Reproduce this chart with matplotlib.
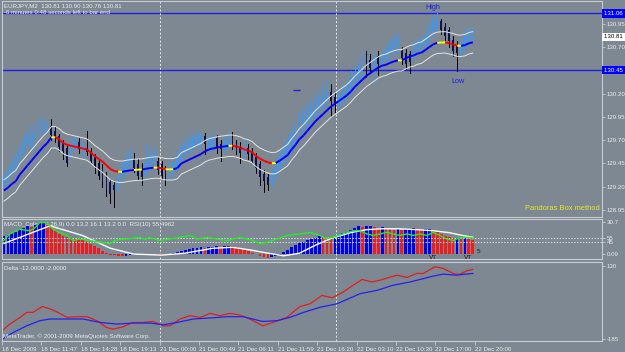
import matplotlib
matplotlib.use('Agg')
import matplotlib.pyplot as plt
import numpy as np
from matplotlib.collections import LineCollection
from matplotlib.transforms import blended_transform_factory as btf

plt.rcParams['font.family'] = ['Liberation Sans', 'DejaVu Sans']

# ---------------- data ----------------
opens = [
    129.22, 129.27, 129.35, 129.40, 129.50, 129.58, 129.66, 129.62, 129.72, 129.76,
    129.80, 129.82, 129.85, 129.80, 129.74, 129.68, 129.62, 129.55, 129.60, 129.68,
    129.58, 129.62, 129.57, 129.52, 129.46, 129.40, 129.32, 129.25, 129.22, 129.18,
    129.30, 129.36, 129.42, 129.50, 129.44, 129.38, 129.32, 129.42, 129.46, 129.48,
    129.44, 129.38, 129.30, 129.36, 129.40, 129.48, 129.55, 129.58, 129.62, 129.65,
    129.66, 129.74, 129.62, 129.64, 129.72, 129.66, 129.60, 129.64, 129.72, 129.66,
    129.62, 129.56, 129.62, 129.58, 129.52, 129.44, 129.34, 129.30, 129.24, 129.30,
    129.40, 129.48, 129.55, 129.62, 129.70, 129.76, 129.82, 129.86, 129.92, 129.96,
    130.02, 130.06, 130.12, 130.22, 130.16, 130.08, 130.12, 130.18, 130.24, 130.30,
    130.36, 130.40, 130.60, 130.56, 130.48, 130.60, 130.52, 130.56, 130.62, 130.66,
    130.70, 130.66, 130.64, 130.62, 130.60, 130.66, 130.70, 130.72, 130.78, 130.86,
    130.90, 130.98, 130.92, 130.88, 130.78, 130.72, 130.64, 130.70, 130.76, 130.81]
closes = [
    129.32, 129.38, 129.46, 129.52, 129.62, 129.70, 129.78, 129.74, 129.84, 129.88,
    129.90, 129.86, 129.76, 129.72, 129.63, 129.58, 129.45, 129.66, 129.70, 129.60,
    129.66, 129.57, 129.48, 129.42, 129.32, 129.25, 129.17, 129.12, 129.16, 129.30,
    129.42, 129.50, 129.55, 129.40, 129.32, 129.30, 129.48, 129.52, 129.56, 129.38,
    129.32, 129.28, 129.40, 129.46, 129.52, 129.60, 129.66, 129.70, 129.72, 129.74,
    129.75, 129.66, 129.70, 129.72, 129.62, 129.60, 129.68, 129.72, 129.64, 129.58,
    129.56, 129.62, 129.55, 129.48, 129.40, 129.30, 129.26, 129.22, 129.34, 129.44,
    129.55, 129.62, 129.70, 129.78, 129.86, 129.92, 129.98, 130.02, 130.08, 130.12,
    130.16, 130.20, 130.24, 130.12, 130.08, 130.18, 130.24, 130.30, 130.38, 130.44,
    130.50, 130.58, 130.50, 130.48, 130.58, 130.52, 130.60, 130.68, 130.74, 130.78,
    130.80, 130.58, 130.52, 130.54, 130.70, 130.76, 130.78, 130.84, 130.92, 130.98,
    131.00, 130.88, 130.82, 130.76, 130.66, 130.64, 130.74, 130.82, 130.86, 130.81]
highs = [
    129.35, 129.42, 129.50, 129.56, 129.66, 129.75, 129.86, 129.80, 129.90, 129.93,
    129.95, 129.92, 129.93, 129.84, 129.77, 129.70, 129.66, 129.72, 129.74, 129.72,
    129.70, 129.80, 129.62, 129.55, 129.50, 129.44, 129.36, 129.28, 129.26, 129.34,
    129.48, 129.56, 129.62, 129.56, 129.50, 129.46, 129.66, 129.60, 129.63, 129.52,
    129.48, 129.42, 129.46, 129.50, 129.58, 129.66, 129.72, 129.76, 129.78, 129.80,
    129.78, 129.78, 129.74, 129.78, 129.76, 129.70, 129.74, 129.78, 129.79, 129.70,
    129.68, 129.72, 129.66, 129.62, 129.56, 129.48, 129.38, 129.34, 129.40, 129.50,
    129.60, 129.68, 129.78, 129.84, 129.92, 130.00, 130.04, 130.10, 130.14, 130.18,
    130.22, 130.30, 130.35, 130.30, 130.22, 130.24, 130.30, 130.36, 130.44, 130.50,
    130.58, 130.66, 130.66, 130.62, 130.64, 130.66, 130.66, 130.72, 130.80, 130.86,
    130.84, 130.70, 130.68, 130.66, 130.78, 130.80, 130.82, 130.92, 130.98, 131.04,
    131.06, 131.00, 130.96, 130.92, 130.82, 130.76, 130.80, 130.88, 130.92, 130.90]
lows = [
    129.20, 129.25, 129.33, 129.38, 129.48, 129.55, 129.64, 129.58, 129.70, 129.72,
    129.77, 129.80, 129.70, 129.68, 129.58, 129.50, 129.42, 129.52, 129.58, 129.56,
    129.52, 129.54, 129.45, 129.35, 129.28, 129.20, 129.10, 129.03, 128.98, 129.15,
    129.26, 129.33, 129.40, 129.36, 129.28, 129.22, 129.30, 129.38, 129.42, 129.34,
    129.28, 129.22, 129.27, 129.33, 129.38, 129.45, 129.52, 129.55, 129.58, 129.62,
    129.62, 129.55, 129.58, 129.60, 129.56, 129.48, 129.57, 129.60, 129.60, 129.55,
    129.46, 129.53, 129.50, 129.45, 129.35, 129.22, 129.14, 129.16, 129.20, 129.27,
    129.37, 129.45, 129.52, 129.58, 129.66, 129.72, 129.78, 129.82, 129.88, 129.92,
    129.98, 130.02, 130.08, 129.96, 130.00, 130.04, 130.08, 130.14, 130.20, 130.26,
    130.32, 130.36, 130.38, 130.42, 130.30, 130.40, 130.48, 130.52, 130.58, 130.62,
    130.64, 130.52, 130.46, 130.42, 130.56, 130.62, 130.66, 130.68, 130.74, 130.82,
    130.86, 130.84, 130.78, 130.70, 130.60, 130.44, 130.60, 130.66, 130.72, 130.76]
ma = [
    129.16, 129.19, 129.23, 129.26, 129.33, 129.38, 129.43, 129.48, 129.53, 129.58,
    129.63, 129.67, 129.73, 129.732, 129.71, 129.67, 129.65, 129.64, 129.63, 129.62,
    129.61, 129.60, 129.57, 129.53, 129.50, 129.47, 129.43, 129.39, 129.37, 129.362,
    129.360, 129.368, 129.375, 129.380, 129.383, 129.384, 129.392, 129.400, 129.405, 129.406,
    129.398, 129.388, 129.386, 129.388, 129.40, 129.45, 129.47, 129.49, 129.51, 129.53,
    129.55, 129.58, 129.60, 129.61, 129.62, 129.627, 129.633, 129.639, 129.640, 129.632,
    129.62, 129.60, 129.59, 129.57, 129.53, 129.50, 129.48, 129.462, 129.452, 129.455,
    129.48, 129.51, 129.54, 129.60, 129.65, 129.71, 129.75, 129.80, 129.85, 129.90,
    129.94, 129.98, 130.02, 130.06, 130.09, 130.12, 130.15, 130.18, 130.22, 130.27,
    130.31, 130.35, 130.39, 130.42, 130.45, 130.48, 130.50, 130.51, 130.53, 130.545,
    130.556, 130.558, 130.58, 130.60, 130.61, 130.63, 130.64, 130.67, 130.70, 130.73,
    130.745, 130.748, 130.750, 130.74, 130.73, 130.715, 130.713, 130.72, 130.74, 130.75]
envelope_width = 0.115

hist = [
    17, 18, 20, 21, 23, 25, 27, 26, 28, 29.8,
    30.7, 28, 25, 22, 19, 17, 16, 15, 14.5, 14,
    13, 12, 10, 8, 6, 3, 1, -0.5, -1.2, -1.5,
    -1.8, -1.5, -1.0, -0.8, -1.0, -1.2, -0.8, -0.5, -0.3, -0.5,
    -0.8, -0.6, 0.2, 1.0, 2.0, 3.0, 4.0, 4.8, 5.5, 6.0,
    6.5, 6.0, 6.8, 7.2, 7.5, 7.0, 7.4, 7.8, 7.5, 6.5,
    5.5, 4.2, 3.0, 1.5, 0.0, -1.5, -2.8, -3.5, -3.0, -2.0,
    -0.5, 1.9, 3.7, 6.5, 8.4, 10.2, 11.2, 13.0, 14.9, 15.8,
    17.7, 16.7, 15.8, 14.9, 16.7, 18.6, 20.5, 21.4, 23.3, 25.1,
    27, 26, 26.5, 27, 26, 25, 25.5, 25, 24, 23.3,
    23.8, 23.3, 23.8, 24.2, 24.6, 24.2, 23.3, 23.8, 24.2, 23.3,
    21.4, 19.5, 17.7, 16.3, 15.3, 15.8, 14.9, 15.3, 14.4, 13.2]

sig_x = [0, 11.7, 20, 27, 33, 40, 46, 53, 58, 63, 67, 71, 75, 79, 83, 88, 92, 96, 100, 105, 109, 113, 116.5, 119]
sig_y = [10.2, 27, 17.7, 5.6, 0, -0.9, 0.9, 5.6, 6.5, 3.7, 0.9, -1.6, 0.9, 8.4, 14.9, 20.5, 23.3, 24.2, 24.2, 23.3, 22.3, 20.5, 17.7, 16.1]

rsi_x = [-0.5, 1.5, 4, 6.6, 7.9, 9.1, 10.9, 12.4, 14.2, 16, 17.5, 19.3, 21.8, 24.4, 26.9,
         28.2, 29.4, 32, 34.5, 35.8, 37, 39.6, 42.1, 44.7, 47.2, 49, 51.5, 54, 56.6, 59.9,
         63.2, 65, 66.8, 69.3, 71.8, 75.1, 77.7, 80.2, 81.5, 83.5, 86, 88.6, 90.4, 92.1, 93.7,
         95.4, 97.2, 98.7, 100.5, 102.3, 103.8, 105.6, 107.4, 108.9, 110.7, 112.4, 114, 115.7, 117.5, 119]
rsi_y = [45, 66, 78, 74, 82, 95, 95, 78, 70, 62, 49, 53, 49, 45, 41,
         49, 52, 54, 57, 52, 57, 49, 53, 57, 62, 53, 57, 53, 49, 57,
         49, 41, 45, 53, 62, 66, 70, 62, 55, 57, 66, 74, 74, 66, 62,
         66, 70, 66, 62, 66, 62, 66, 62, 70, 62, 53, 49, 56, 57.5, 55.5]
rsi_levels = [55, 45]

delta_red_x = [-0.5, 1.5, 4.1, 5.8, 7.4, 9.7, 11.7, 13.7, 16, 18.5, 21.1, 23.6, 26.1, 27.7, 30.2,
               32.7, 35.3, 37.8, 40.4, 42.1, 44.7, 47.2, 49.8, 52.3, 54.8, 57.4, 59.9, 62.4, 65.7, 68.3,
               71.8, 75.1, 77.7, 80.7, 83.3, 86.1, 88.6, 90.9, 93.4, 95.4, 99.8, 102.3, 104.8, 106.4, 109.4,
               111.4, 114.5, 115.7, 117.5, 119]
delta_red_y = [-150, -120.7, -91.8, -70, -70, -45, -55, -70, -91.8, -88.8, -88.8, -106, -135.6, -142.6, -132.5,
               -113.7, -113.7, -109.3, -128, -128, -98.8, -84.4, -91.8, -74.3, -84.4, -74.3, -81.3, -98.8, -128, -113.7,
               -91.8, -45, -33.2, 3.1, -7, 17.6, 46.9, 71.8, 61.3, 68.8, 90.6, 80.6, 98.1, 98.1, 127,
               120, 95, 95, 109.4, 115.6]
delta_blue_x = [-0.5, 2.3, 5.8, 9.1, 11.7, 16, 20.1, 24.4, 28.7, 32.7, 37.1, 40.4, 43.9, 48, 52.3,
                56.6, 60.7, 65.7, 69.3, 72.6, 75.9, 80.2, 84.5, 90.4, 94.7, 98.7, 103.1, 108.9, 111.4, 115,
                117, 119]
delta_blue_y = [-186.3, -157.4, -128, -106, -98.8, -98.8, -98.8, -113.7, -120.7, -116.3, -116.3, -123.8, -113.7, -98.8, -94.4,
                -88.8, -88.8, -109.3, -106, -91.8, -71, -48, -33.2, 10.6, 25, 46.9, 61.3, 86.3, 95, 90.6,
                95, 98.1]

time_labels = ["18 Dec 2009", "18 Dec 11:47", "18 Dec 14:28", "18 Dec 19:13", "21 Dec 00:00",
               "21 Dec 00:49", "21 Dec 06:11", "21 Dec 11:59", "21 Dec 16:20", "22 Dec 03:10",
               "22 Dec 10:30", "22 Dec 17:00", "22 Dec 20:00"]
time_tick_pos = [-0.5, 9.5, 19.5, 29.5, 39.5, 49.5, 59.5, 69.5, 79.5, 89.5, 99.5, 109.5, 119.5]
separators = [39.6, 84.3]
price_ticks = [130.95, 130.70, 130.20, 129.95, 129.70, 129.45, 129.20, 128.95]
high_level = 131.06
low_level = 130.45
last_price = 130.81

# ---------------- style ----------------
BG = '#7d8893'
TXT = '#ececec'
SPINE = '#c8ccd2'
BULL = '#3399ff'
BEAR = '#12124a'
LBLUE = '#1e1ee6'
FS = 4.4

W, H = 625, 352
fig = plt.figure(figsize=(W / 100, H / 100), dpi=100, facecolor=BG)


def px_axes(l, t, r, b):
    ax = fig.add_axes([l / W, 1 - b / H, (r - l) / W, (b - t) / H])
    ax.set_facecolor(BG)
    for s in ax.spines.values():
        s.set_color(SPINE)
        s.set_linewidth(0.8)
    ax.set_xlim(-0.5, 151.8)
    return ax


ax1 = px_axes(2, 1, 602, 217)
ax2 = px_axes(2, 219, 602, 259)
ax3 = px_axes(2, 262, 602, 341)

x = np.arange(len(closes))
o = np.array(opens); c = np.array(closes); h = np.array(highs); l = np.array(lows)
bull = c >= o

# ---- main panel ----
ax1.set_ylim(128.875, 131.194)
ax1.axhline(high_level, color=LBLUE, lw=1.0, zorder=1)
ax1.axhline(low_level, color=LBLUE, lw=1.0, zorder=1)
ax1.vlines(x, l, h, colors=np.where(bull, BULL, '#000000'), lw=0.6, zorder=2, antialiased=False)
body_h = np.maximum(np.abs(c - o), 0.004)
ax1.bar(x, body_h, bottom=np.minimum(o, c), width=0.45,
        color=np.where(bull, BULL, BEAR), edgecolor='none', zorder=3, antialiased=False)
mav = np.array(ma)
ax1.plot(x, mav + envelope_width, color='#e4e4e4', lw=0.7, zorder=4)
ax1.plot(x, mav - envelope_width, color='#e4e4e4', lw=0.7, zorder=4)
d = np.diff(mav)
seg_colors = np.where(np.abs(d) < 0.0035, '#ffff00', np.where(d > 0, '#0000ff', '#ff0000'))
segs = [[(x[i], mav[i]), (x[i + 1], mav[i + 1])] for i in range(len(mav) - 1)]
ax1.add_collection(LineCollection(segs, colors=seg_colors, linewidths=1.4, zorder=5))
ax1.hlines(130.234, 73.4, 75.2, color=LBLUE, lw=1.0, zorder=5)

ax1.text(108.9, 131.119, 'High', color=LBLUE, fontsize=5.2, ha='center', va='center')
ax1.text(115.2, 130.331, 'Low', color=LBLUE, fontsize=5.2, ha='center', va='center')
ax1.text(0.997, 0.04, 'Pandoras Box method', transform=ax1.transAxes, color='#e6e62a',
         fontsize=5.4, ha='right', va='center')

ax1.yaxis.tick_right()
ax1.set_yticks(price_ticks)
ax1.set_yticklabels([f'{v:.2f}' for v in price_ticks])
bt1 = btf(ax1.transAxes, ax1.transData)
for val, fc, tc in [(high_level, '#0000ff', 'white'), (low_level, '#0000ff', 'white'),
                    (last_price, 'white', 'black')]:
    ax1.text(1.003, val, f'{val:.2f}  ', transform=bt1, fontsize=FS, color=tc, ha='left', va='center',
             bbox=dict(boxstyle='square,pad=0.25', fc=fc, ec='none'), clip_on=False, zorder=10)

# ---- MACD / RSI panel ----
ax2.set_ylim(-4.65, 33.5)
hv = np.array(hist)
hcol = ['#0000f0'] + ['#0000f0' if hv[i] >= hv[i - 1] else '#ee1c1c' for i in range(1, len(hv))]
ax2.bar(x, hv, width=0.7, color=hcol, edgecolor='none', zorder=2, antialiased=False)
ax2.plot(sig_x, sig_y, color='white', lw=1.0, zorder=3)
ax2.text(0.004, 0.86, 'MACD_Color(12,26,9) 0.0 13.2 16.1 13.2 0.0  RSI(10) 55.4962',
         transform=ax2.transAxes, fontsize=FS, color=TXT, ha='left', va='center', zorder=1)
ax2.text(108.9, -2.8, 'VT', fontsize=4.6, color='#1a1a1a', ha='center', va='center', zorder=4)
ax2.text(117.8, -2.8, 'VT', fontsize=4.6, color='#1a1a1a', ha='center', va='center', zorder=4)
ax2.text(119.9, 2.8, '5', fontsize=4.6, color='#1a1a1a', ha='left', va='center', zorder=4)

ax2r = ax2.twinx()
ax2r.set_ylim(1.75, 104.25)
ax2r.patch.set_visible(False)
for s in ax2r.spines.values():
    s.set_visible(False)
for lv in rsi_levels:
    ax2r.axhline(lv, color='#d8d8d8', lw=0.7, ls=(0, (1.5, 1.5)), zorder=1)
ax2r.plot(rsi_x, rsi_y, color='#22ee22', lw=1.0, zorder=3)
ax2r.set_yticks(rsi_levels)
ax2r.set_yticklabels(['55', '45'])
ax2r.set_xlim(-0.5, 151.8)

ax2.yaxis.tick_right()
ax2.yaxis.set_label_position('right')
ax2.set_yticks([30.7, 0])
ax2.set_yticklabels(['30.7', '0.09'])

# ---- Delta panel ----
ax3.set_ylim(-193.75, 147.5)
ax3.plot(delta_red_x, delta_red_y, color='#e01e1e', lw=0.9)
ax3.plot(delta_blue_x, delta_blue_y, color='#2222ee', lw=0.9)
ax3.text(0.004, 0.915, 'Delta -12.0000 -2.0000', transform=ax3.transAxes, fontsize=FS,
         color=TXT, ha='left', va='center')
ax3.text(0.002, 0.06, 'MetaTrader, \u00a9 2001-2009 MetaQuotes Software Corp.', transform=ax3.transAxes,
         fontsize=FS, color=TXT, ha='left', va='center')
ax3.yaxis.tick_right()
ax3.set_yticks([130, -185])
ax3.set_yticklabels(['130', '-185'])
ax3.set_xticks(time_tick_pos)
ax3.set_xticklabels(time_labels)
for lb in ax3.get_xticklabels():
    lb.set_ha('left')
ax3.tick_params(axis='x', length=3, width=0.6, color=SPINE, labelcolor=TXT, labelsize=FS, pad=1.5)

for ax in (ax1, ax2, ax3, ax2r):
    ax.tick_params(axis='y', left=False, labelleft=False, right=True, labelright=True,
                   length=2, width=0.6, color=SPINE, labelcolor=TXT, labelsize=FS, pad=1.5)
for ax in (ax1, ax2, ax3):
    for sv in separators:
        ax.axvline(sv, color='#e6e6e6', lw=0.7, ls=(0, (2, 2)), zorder=1.5)
for ax in (ax1, ax2, ax2r):
    ax.tick_params(axis='x', bottom=False, labelbottom=False, top=False, labeltop=False)

# header
fig.text(4 / W, 1 - 5.7 / H, 'EURJPY,M2  130.81 130.90 130.76 130.81', fontsize=FS, color=TXT,
         ha='left', va='center')
fig.text(4 / W, 1 - 12.7 / H, '-6 minutes 0:48 seconds left to bar end', fontsize=FS, color=TXT,
         ha='left', va='center')

fig.savefig('out.png', dpi=100, facecolor=BG)
